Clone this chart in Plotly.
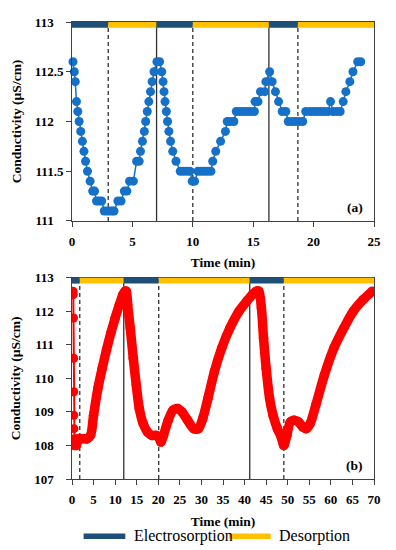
import plotly.graph_objects as go

# ---------------- data ----------------
# (a) top panel: conductivity readings (time in min, uS/cm)
a_time = [0.08, 0.19, 0.27, 0.37, 0.48, 0.59, 0.72, 0.86, 0.99, 1.12, 1.28, 1.50, 1.71, 1.87,
          2.03, 2.25, 2.46, 2.67, 2.89, 3.10, 3.32, 3.48, 3.80, 4.06, 4.33, 4.55, 4.76, 5.08,
          5.35, 5.56, 5.67, 5.83, 5.99, 6.10, 6.23, 6.36, 6.50, 6.63, 6.79, 7.03, 7.25, 7.43,
          7.54, 7.62, 7.70, 7.81, 7.91, 8.02, 8.16, 8.34, 8.61, 8.96, 9.22, 9.49, 9.76, 9.95,
          10.15, 10.43, 10.70, 10.96, 11.23, 11.50, 11.65, 11.90, 12.30, 12.70, 12.85, 13.10,
          13.40, 13.60, 13.90, 14.20, 14.50, 14.80, 15.10, 15.15, 15.40, 15.60, 15.95, 16.05,
          16.36, 16.57, 16.84, 17.10, 17.40, 17.70, 17.90, 18.20, 18.50, 18.80, 19.10, 19.35,
          19.70, 20.00, 20.30, 20.60, 20.90, 21.20, 21.40, 21.60, 21.90, 22.20, 22.45, 22.67,
          23.00, 23.26, 23.65, 23.90]
a_cond = [112.6, 112.5, 112.4, 112.2, 112.1, 112.0, 111.9, 111.8, 111.7, 111.6, 111.5, 111.4, 111.3, 111.3,
          111.2, 111.2, 111.2, 111.1, 111.1, 111.1, 111.1, 111.1, 111.2, 111.2, 111.3, 111.3, 111.4, 111.4,
          111.6, 111.6, 111.7, 111.8, 111.9, 112.0, 112.1, 112.2, 112.3, 112.4, 112.5, 112.6, 112.6, 112.5,
          112.4, 112.3, 112.2, 112.1, 112.0, 111.9, 111.8, 111.7, 111.6, 111.5, 111.5, 111.5, 111.5, 111.4,
          111.4, 111.5, 111.5, 111.5, 111.5, 111.5, 111.6, 111.7, 111.8, 111.9, 112.0, 112.0,
          112.0, 112.1, 112.1, 112.1, 112.1, 112.1, 112.1, 112.2, 112.2, 112.3, 112.3, 112.4,
          112.5, 112.4, 112.3, 112.2, 112.1, 112.1, 112.0, 112.0, 112.0, 112.0, 112.0, 112.1,
          112.1, 112.1, 112.1, 112.1, 112.1, 112.1, 112.2, 112.1, 112.1, 112.1, 112.2, 112.3,
          112.4, 112.5, 112.6, 112.6]

# (b) bottom panel
b_time = [0.25, 0.30, 0.35, 0.38, 0.40, 0.42, 0.45, 0.50, 0.60,
          1.0, 1.5, 2.5, 3.5, 4.3, 5.0, 6.0, 7.0, 8.0, 9.0, 10.0, 11.0, 11.8, 12.3, 12.6,
          12.9, 13.5, 14.2, 14.9, 15.6, 16.5, 17.5, 18.5, 19.5, 20.1, 20.6, 21.2, 22.3, 23.4,
          24.5, 25.5, 26.8, 28.2, 29.3, 30.3, 31.5, 33.0, 34.7, 36.6, 38.7, 40.5, 41.8, 42.7,
          43.3, 43.9, 44.4, 45.0, 45.8, 46.6, 47.6, 48.5, 49.1, 49.8, 50.6, 51.5, 52.5, 53.5,
          54.3, 55.2, 56.5, 58.5, 60.7, 63.0, 65.2, 67.5, 69.6]
b_cond = [112.6, 112.5, 111.8, 110.6, 109.6, 108.9, 108.5, 108.2, 108.0,
          108.0, 108.2, 108.2, 108.2, 108.3, 108.9, 109.7, 110.3, 110.85, 111.35, 111.8, 112.2, 112.5, 112.6, 112.6,
          112.2, 111.5, 110.6, 109.8, 109.1, 108.65, 108.4, 108.3, 108.3, 108.25, 108.1, 108.3, 108.75, 109.05,
          109.1, 109.0, 108.75, 108.5, 108.5, 108.8, 109.4, 110.2, 110.9, 111.5, 112.0, 112.3, 112.5, 112.6,
          112.6, 112.1, 111.2, 110.3, 109.4, 108.9, 108.5, 108.25, 108.0, 108.3, 108.7, 108.75, 108.7, 108.55,
          108.5, 108.65, 109.2, 110.1, 110.9, 111.5, 112.0, 112.35, 112.6]
b_fast_drop = 9  # number of initial readings forming the fast initial drop

# operating phases: start times, phase names (E = electrosorption, D = desorption)
a_phase_start = [0, 3, 7, 10, 16.3, 18.7]
a_phase_end = 25
a_phase_kind = ["E", "D", "E", "D", "E", "D"]
b_phase_start = [0, 1.8, 12, 20.1, 41.2, 49.1]
b_phase_end = 70
b_phase_kind = ["E", "D", "E", "D", "E", "D"]
phase_names = {"E": "Electrosorption", "D": "Desorption"}

a_yticks = [111, 111.5, 112, 112.5, 113]
b_yticks = [107, 108, 109, 110, 111, 112, 113]
a_xticks = list(range(0, 26, 5))
b_xticks = list(range(0, 71, 5))

# ---------------- styles ----------------
FONT = "Liberation Serif"
BLUE_PTS = "#1570C8"
RED = "#FF0000"
PHASE_COL = {"E": "#1F4E79", "D": "#FFC000"}
AX_COL = "#404040"

fig = go.Figure()

fig.add_trace(go.Scatter(x=a_time, y=a_cond, mode="lines+markers",
                         line=dict(color=BLUE_PTS, width=1.5),
                         marker=dict(color=BLUE_PTS, size=9),
                         xaxis="x", yaxis="y", showlegend=False, cliponaxis=False))

fig.add_trace(go.Scatter(x=b_time[:b_fast_drop], y=b_cond[:b_fast_drop], mode="lines+markers",
                         line=dict(color=RED, width=2),
                         marker=dict(color=RED, size=9),
                         xaxis="x2", yaxis="y2", showlegend=False))
fig.add_trace(go.Scatter(x=b_time[b_fast_drop - 1:], y=b_cond[b_fast_drop - 1:], mode="lines+markers",
                         line=dict(color=RED, width=9.5, shape="spline", smoothing=0.8),
                         marker=dict(color=RED, size=9.5),
                         xaxis="x2", yaxis="y2", showlegend=False))

shapes = []
def add_phases(starts, end, kinds, xref, yref):
    ends = starts[1:] + [end]
    for s, e, k in zip(starts, ends, kinds):
        shapes.append(dict(type="rect", xref=xref, yref=yref + " domain", x0=s, x1=e,
                           y0=0.971, y1=1.0, fillcolor=PHASE_COL[k],
                           line=dict(width=0), layer="above"))
        if s > 0:
            shapes.append(dict(type="line", xref=xref, yref=yref + " domain", x0=s, x1=s,
                               y0=0, y1=1, layer="below",
                               line=dict(color="#303030", width=1.3,
                                         dash="solid" if k == "E" else "4px,3px")))

add_phases(a_phase_start, a_phase_end, a_phase_kind, "x", "y")
add_phases(b_phase_start, b_phase_end, b_phase_kind, "x2", "y2")

# manual legend (key swatches + labels) below the lower panel
LEG_Y = -0.125
legend_items = [("E", 0.0385), ("D", 0.520)]
SW_W = 0.138
annotations = []
for k, x0 in legend_items:
    shapes.append(dict(type="line", xref="paper", yref="paper", x0=x0, x1=x0 + SW_W,
                       y0=LEG_Y, y1=LEG_Y, line=dict(color=PHASE_COL[k], width=5.5)))
    annotations.append(dict(text=phase_names[k], xref="paper", yref="paper",
                            x=x0 + SW_W + 0.022, y=LEG_Y, xanchor="left", yanchor="middle",
                            showarrow=False, font=dict(family=FONT, size=16, color="black")))

pad = "\u2008\u2007"
def ylabels(vals):
    out = []
    for v in vals:
        out.append(f"<b>{v:g}</b>" if v != int(v) else f"<b>{int(v)}</b>" + pad)
    return out

def xlabels(vals):
    return [f"<b>{v}</b>" for v in vals]

axis_common = dict(showline=True, linecolor=AX_COL, linewidth=1, mirror=True,
                   ticks="outside", ticklen=5, tickcolor=AX_COL, showgrid=False,
                   zeroline=False, tickfont=dict(family=FONT, size=13, color="black"))

title_font = dict(family=FONT, size=13.5, color="black")

annotations += [
    dict(text="<b>(a)</b>", xref="x domain", yref="y domain", x=0.97, y=0.069,
         xanchor="right", yanchor="middle", showarrow=False, font=dict(family=FONT, size=13.5)),
    dict(text="<b>(b)</b>", xref="x2 domain", yref="y2 domain", x=0.97, y=0.069,
         xanchor="right", yanchor="middle", showarrow=False, font=dict(family=FONT, size=13.5)),
]

fig.update_layout(
    width=380, height=542,
    margin=dict(l=62, r=6.5, t=7, b=71),
    paper_bgcolor="white", plot_bgcolor="white",
    font=dict(family=FONT, size=13, color="black"),
    showlegend=False,
    shapes=shapes,
    annotations=annotations,
    xaxis=dict(domain=[0, 1], anchor="y", range=[0, 25], tickvals=a_xticks,
               ticktext=xlabels(a_xticks), ticklabelstandoff=3,
               title=dict(text="<b>Time (min)</b>", font=title_font, standoff=10),
               **axis_common),
    yaxis=dict(domain=[0.5647, 1.0], anchor="x", range=[111, 113], tickvals=a_yticks,
               ticktext=ylabels(a_yticks),
               title=dict(text="<b>Conductivity (µS/cm)</b>", font=title_font, standoff=10),
               **axis_common),
    xaxis2=dict(domain=[0, 1], anchor="y2", range=[0, 70], tickvals=b_xticks,
                ticktext=xlabels(b_xticks), ticklabelstandoff=3,
                title=dict(text="<b>Time (min)</b>", font=title_font, standoff=10),
                **axis_common),
    yaxis2=dict(domain=[0, 0.4403], anchor="x2", range=[107, 113], tickvals=b_yticks,
                ticktext=ylabels(b_yticks),
                title=dict(text="<b>Conductivity (µS/cm)</b>", font=title_font, standoff=10),
                **axis_common),
)

fig.write_html("out.html")
